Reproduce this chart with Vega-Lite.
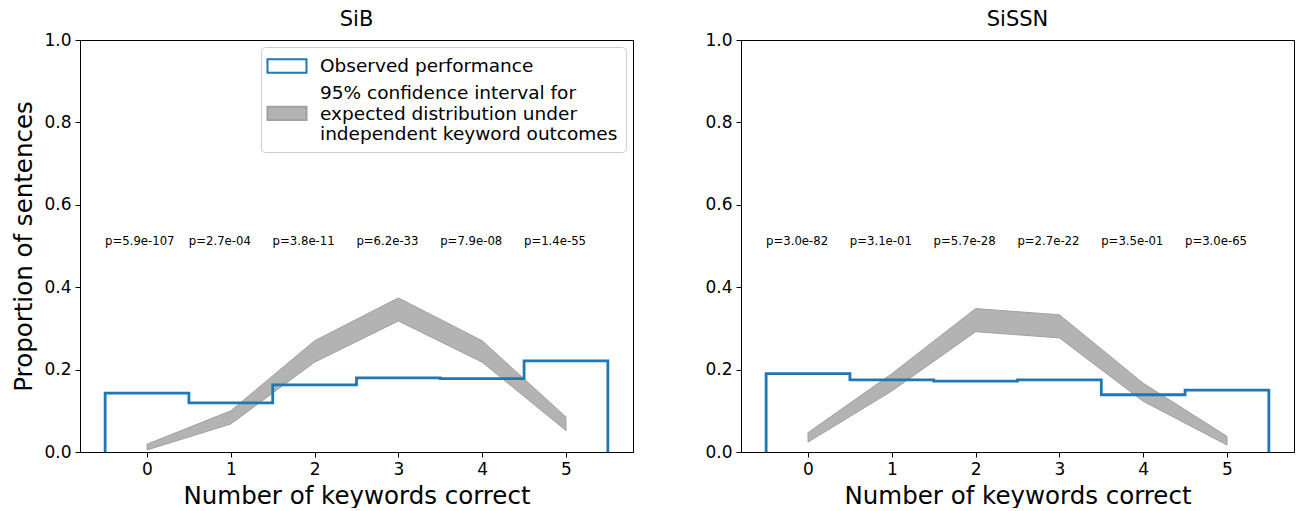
{
  "$schema": "https://vega.github.io/schema/vega-lite/v6.json",
  "padding": {"left": 11, "top": 8, "right": 5, "bottom": 0},
  "datasets": {
    "stairs": [
      {"panel": "SiB", "i": 0, "edge": -0.5, "value": 0},
      {"panel": "SiB", "i": 1, "edge": -0.5, "value": 0.143},
      {"panel": "SiB", "i": 2, "edge": 0.5, "value": 0.119},
      {"panel": "SiB", "i": 3, "edge": 1.5, "value": 0.163},
      {"panel": "SiB", "i": 4, "edge": 2.5, "value": 0.180},
      {"panel": "SiB", "i": 5, "edge": 3.5, "value": 0.178},
      {"panel": "SiB", "i": 6, "edge": 4.5, "value": 0.221},
      {"panel": "SiB", "i": 7, "edge": 5.5, "value": 0.221},
      {"panel": "SiB", "i": 8, "edge": 5.5, "value": 0},
      {"panel": "SiSSN", "i": 0, "edge": -0.5, "value": 0},
      {"panel": "SiSSN", "i": 1, "edge": -0.5, "value": 0.190},
      {"panel": "SiSSN", "i": 2, "edge": 0.5, "value": 0.175},
      {"panel": "SiSSN", "i": 3, "edge": 1.5, "value": 0.172},
      {"panel": "SiSSN", "i": 4, "edge": 2.5, "value": 0.175},
      {"panel": "SiSSN", "i": 5, "edge": 3.5, "value": 0.139},
      {"panel": "SiSSN", "i": 6, "edge": 4.5, "value": 0.150},
      {"panel": "SiSSN", "i": 7, "edge": 5.5, "value": 0.150},
      {"panel": "SiSSN", "i": 8, "edge": 5.5, "value": 0}
    ],
    "band": [
      {"panel": "SiB", "k": 0, "lower": 0.005, "upper": 0.019},
      {"panel": "SiB", "k": 1, "lower": 0.068, "upper": 0.100},
      {"panel": "SiB", "k": 2, "lower": 0.218, "upper": 0.270},
      {"panel": "SiB", "k": 3, "lower": 0.318, "upper": 0.374},
      {"panel": "SiB", "k": 4, "lower": 0.218, "upper": 0.270},
      {"panel": "SiB", "k": 5, "lower": 0.052, "upper": 0.085},
      {"panel": "SiSSN", "k": 0, "lower": 0.024, "upper": 0.047},
      {"panel": "SiSSN", "k": 1, "lower": 0.148, "upper": 0.190},
      {"panel": "SiSSN", "k": 2, "lower": 0.292, "upper": 0.348},
      {"panel": "SiSSN", "k": 3, "lower": 0.277, "upper": 0.333},
      {"panel": "SiSSN", "k": 4, "lower": 0.123, "upper": 0.167},
      {"panel": "SiSSN", "k": 5, "lower": 0.017, "upper": 0.038}
    ],
    "pvals": [
      {"panel": "SiB", "k": 0, "p": "p=5.9e-107"},
      {"panel": "SiB", "k": 1, "p": "p=2.7e-04"},
      {"panel": "SiB", "k": 2, "p": "p=3.8e-11"},
      {"panel": "SiB", "k": 3, "p": "p=6.2e-33"},
      {"panel": "SiB", "k": 4, "p": "p=7.9e-08"},
      {"panel": "SiB", "k": 5, "p": "p=1.4e-55"},
      {"panel": "SiSSN", "k": 0, "p": "p=3.0e-82"},
      {"panel": "SiSSN", "k": 1, "p": "p=3.1e-01"},
      {"panel": "SiSSN", "k": 2, "p": "p=5.7e-28"},
      {"panel": "SiSSN", "k": 3, "p": "p=2.7e-22"},
      {"panel": "SiSSN", "k": 4, "p": "p=3.5e-01"},
      {"panel": "SiSSN", "k": 5, "p": "p=3.0e-65"}
    ]
  },
  "config": {
    "font": "DejaVu Sans",
    "view": {"stroke": "black", "strokeWidth": 1},
    "axis": {
      "grid": false, "domainColor": "black", "tickColor": "black",
      "labelColor": "black", "titleColor": "black",
      "labelFontSize": 17, "titleFontSize": 24.5, "titleFontWeight": "normal",
      "tickSize": 5, "labelPadding": 4, "titlePadding": 7
    },
    "legend": {
      "orient": "top-right", "offset": 7, "title": null,
      "labelFontSize": 18.5, "labelLimit": 0, "labelColor": "black",
      "symbolSize": 380, "symbolStrokeWidth": 2, "symbolOffset": 7,
      "labelOffset": 22, "padding": 8, "rowPadding": 5,
      "strokeColor": "#cccccc", "fillColor": "rgba(255,255,255,0.8)", "cornerRadius": 4
    },
    "title": {"fontSize": 21, "fontWeight": "normal", "offset": 1, "color": "black"}
  },
  "spacing": 70,
  "resolve": {
    "scale": {"fill": "independent", "stroke": "independent", "shape": "independent"},
    "legend": {"fill": "independent", "stroke": "independent", "shape": "independent"}
  },
  "hconcat": [
    {
      "title": "SiB",
      "width": 553,
      "height": 412,
      "layer": [
        {
          "data": {"name": "band"},
          "transform": [{"filter": "datum.panel == 'SiB'"}],
          "mark": {"type": "area", "strokeWidth": 1},
          "encoding": {
            "x": {"field": "k", "type": "quantitative", "scale": {"domain": [-0.8, 5.8], "nice": false, "zero": false},
                  "axis": {"values": [0, 1, 2, 3, 4, 5], "format": "d", "title": "Number of keywords correct"}},
            "y": {"field": "lower", "type": "quantitative", "scale": {"domain": [0, 1], "nice": false},
                  "axis": {"values": [0, 0.2, 0.4, 0.6, 0.8, 1], "format": ".1f", "title": "Proportion of sentences"}},
            "y2": {"field": "upper"},
            "fill": {
              "datum": "CI", "type": "nominal",
              "scale": {"domain": ["Observed performance", "CI"], "range": ["white", "#b3b3b3"]},
              "legend": {
                "labelExpr": "datum.label == 'CI' ? ['95% confidence interval for', 'expected distribution under', 'independent keyword outcomes'] : datum.label"
              }
            },
            "stroke": {
              "datum": "CI", "type": "nominal",
              "scale": {"domain": ["Observed performance", "CI"], "range": ["#1f77b4", "#a0a0a0"]},
              "legend": {
                "labelExpr": "datum.label == 'CI' ? ['95% confidence interval for', 'expected distribution under', 'independent keyword outcomes'] : datum.label"
              }
            }
          }
        },
        {
          "data": {"name": "band"},
          "transform": [{"filter": "datum.panel == 'legend only'"}],
          "mark": {"type": "point"},
          "encoding": {
            "x": {"field": "k", "type": "quantitative"},
            "y": {"field": "lower", "type": "quantitative"},
            "shape": {
              "datum": "CI", "type": "nominal",
              "scale": {"domain": ["Observed performance", "CI"], "range": ["M-2,-0.68H2V0.68H-2Z", "M-2,1.42H2V2.78H-2Z"]},
              "legend": {
                "labelExpr": "datum.label == 'CI' ? ['95% confidence interval for', 'expected distribution under', 'independent keyword outcomes'] : datum.label"
              }
            }
          }
        },
        {
          "data": {"name": "stairs"},
          "transform": [{"filter": "datum.panel == 'SiB'"}],
          "mark": {"type": "line", "interpolate": "step-after", "strokeWidth": 2.8},
          "encoding": {
            "x": {"field": "edge", "type": "quantitative"},
            "y": {"field": "value", "type": "quantitative"},
            "order": {"field": "i", "type": "quantitative"},
            "stroke": {"datum": "Observed performance", "type": "nominal"}
          }
        },
        {
          "data": {"name": "pvals"},
          "transform": [{"filter": "datum.panel == 'SiB'"}],
          "mark": {"type": "text", "align": "left", "baseline": "middle", "dx": -42, "fontSize": 11.7, "color": "black"},
          "encoding": {
            "x": {"field": "k", "type": "quantitative"},
            "y": {"datum": 0.512, "type": "quantitative"},
            "text": {"field": "p"}
          }
        }
      ]
    },
    {
      "title": "SiSSN",
      "width": 553,
      "height": 412,
      "layer": [
        {
          "data": {"name": "band"},
          "transform": [{"filter": "datum.panel == 'SiSSN'"}],
          "mark": {"type": "area", "fill": "#b3b3b3", "stroke": "#a0a0a0", "strokeWidth": 1},
          "encoding": {
            "x": {"field": "k", "type": "quantitative", "scale": {"domain": [-0.8, 5.8], "nice": false, "zero": false},
                  "axis": {"values": [0, 1, 2, 3, 4, 5], "format": "d", "title": "Number of keywords correct"}},
            "y": {"field": "lower", "type": "quantitative", "scale": {"domain": [0, 1], "nice": false},
                  "axis": {"values": [0, 0.2, 0.4, 0.6, 0.8, 1], "format": ".1f", "title": null}},
            "y2": {"field": "upper"}
          }
        },
        {
          "data": {"name": "stairs"},
          "transform": [{"filter": "datum.panel == 'SiSSN'"}],
          "mark": {"type": "line", "interpolate": "step-after", "strokeWidth": 2.8, "color": "#1f77b4"},
          "encoding": {
            "x": {"field": "edge", "type": "quantitative"},
            "y": {"field": "value", "type": "quantitative"},
            "order": {"field": "i", "type": "quantitative"}
          }
        },
        {
          "data": {"name": "pvals"},
          "transform": [{"filter": "datum.panel == 'SiSSN'"}],
          "mark": {"type": "text", "align": "left", "baseline": "middle", "dx": -42, "fontSize": 11.7, "color": "black"},
          "encoding": {
            "x": {"field": "k", "type": "quantitative"},
            "y": {"datum": 0.512, "type": "quantitative"},
            "text": {"field": "p"}
          }
        }
      ]
    }
  ]
}
